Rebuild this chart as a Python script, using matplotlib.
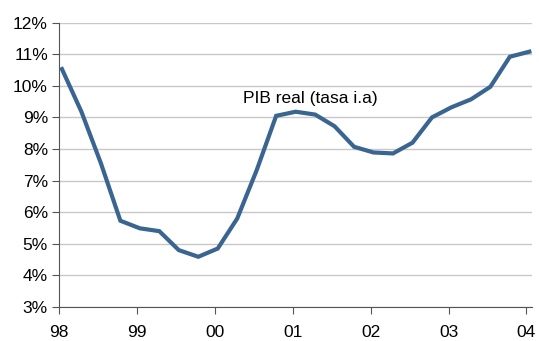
import numpy as np
import matplotlib.pyplot as plt
from matplotlib.ticker import FuncFormatter

plt.rcParams['font.family'] = ['Liberation Sans', 'DejaVu Sans']

# PIB real, tasa interanual trimestral 1998-2004 (%)
quarters = np.arange(25)
pib = [10.53, 9.18, 7.55, 5.73, 5.49, 5.40, 4.80, 4.59, 4.85, 5.80,
       7.33, 9.05, 9.18, 9.09, 8.72, 8.07, 7.89, 7.86, 8.20, 9.00,
       9.32, 9.57, 9.97, 10.92, 11.08]
year_labels = ['98', '99', '00', '01', '02', '03', '04']

fig = plt.figure(figsize=(5.39, 3.41), dpi=100)
ax = fig.add_axes([0.1095, 0.0997, 0.878, 0.834])

ax.plot(quarters + 0.15, pib, color='#3a6591', lw=3.0, solid_joinstyle='miter')

ax.set_ylim(3, 12)
ax.set_yticks(range(3, 13))
ax.yaxis.set_major_formatter(FuncFormatter(lambda v, p: f'{v:.0f}%'))
ax.set_xlim(0, 24.3)
ax.set_xticks(np.arange(0, 25, 4))
ax.set_xticklabels(year_labels)

ax.grid(axis='y', color='#c8c8c8', lw=1)
ax.set_axisbelow(True)
for s in ['top', 'right']:
    ax.spines[s].set_visible(False)
for s in ['left', 'bottom']:
    ax.spines[s].set_color('#555555')
ax.tick_params(axis='y', length=5, color='#555555', labelsize=12.5, pad=3)
ax.tick_params(axis='x', length=5, color='#555555', labelsize=12.5, pad=8)

ax.text(12.9, 9.6, 'PIB real (tasa i.a)', fontsize=12.5, ha='center', va='center')

fig.savefig('out.png', dpi=100)
